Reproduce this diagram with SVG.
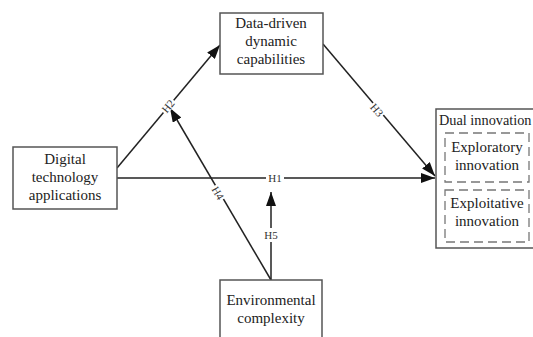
<svg xmlns="http://www.w3.org/2000/svg" width="533" height="337" viewBox="0 0 533 337">
<style>
.box{fill:#fff;stroke:#555;stroke-width:1.5}
.dash{fill:none;stroke:#777;stroke-width:1.3;stroke-dasharray:9 5}
.t{font-family:"Liberation Serif",serif;font-size:15px;fill:#222;text-anchor:middle}
.lbl{font-family:"Liberation Serif",serif;font-size:11px;fill:#333;text-anchor:middle;dominant-baseline:central}
.ln{stroke:#222;stroke-width:1.5;fill:none}
.bg{fill:#fff}
</style>
<defs>
<marker id="ah" viewBox="0 0 14 10" refX="14" refY="5" markerWidth="14" markerHeight="10" markerUnits="userSpaceOnUse" orient="auto">
<path d="M0,0 L14,5 L0,10 Z" fill="#111"/>
</marker>
</defs>
<rect width="533" height="337" fill="#fff"/>
<g id="connectors">
<line class="ln" x1="117" y1="178" x2="435" y2="178" marker-end="url(#ah)"/>
<line class="ln" x1="117" y1="168" x2="220" y2="45" marker-end="url(#ah)"/>
<line class="ln" x1="323" y1="44" x2="435" y2="176" marker-end="url(#ah)"/>
<line class="ln" x1="271" y1="280" x2="170" y2="108" marker-end="url(#ah)"/>
<line class="ln" x1="271" y1="280" x2="271" y2="192" marker-end="url(#ah)"/>
<rect class="bg" x="266" y="171" width="18" height="14"/>
<text class="lbl" x="275" y="178">H1</text>
<g transform="translate(168,106) rotate(-50)"><rect class="bg" x="-8" y="-5" width="16" height="10"/><text class="lbl" x="0" y="0">H2</text></g>
<g transform="translate(377,110) rotate(49.5)"><rect class="bg" x="-8" y="-5" width="16" height="10"/><text class="lbl" x="0" y="0">H3</text></g>
<g transform="translate(218,193) rotate(59.6)"><rect class="bg" x="-8" y="-5" width="16" height="10"/><text class="lbl" x="0" y="0">H4</text></g>
<rect class="bg" x="264" y="228" width="14" height="14"/>
<text class="lbl" x="271" y="235">H5</text>
</g>
<g id="node-data">
<rect class="box" x="220" y="13" width="103" height="61"/>
<text class="t" x="271" y="28">Data-driven</text>
<text class="t" x="271" y="46">dynamic</text>
<text class="t" x="271" y="64">capabilities</text>
</g>
<g id="node-digital">
<rect class="box" x="13" y="147" width="104" height="62"/>
<text class="t" x="65" y="164">Digital</text>
<text class="t" x="65" y="182">technology</text>
<text class="t" x="65" y="200">applications</text>
</g>
<g id="node-env">
<rect class="box" x="220" y="280" width="102" height="70"/>
<text class="t" x="271" y="305">Environmental</text>
<text class="t" x="271" y="323">complexity</text>
</g>
<g id="node-dual">
<rect class="box" x="436" y="109" width="110" height="139"/>
<text class="t" x="439" y="125" style="text-anchor:start;font-size:14.3px">Dual innovation</text>
<rect class="dash" x="445" y="133" width="84" height="49"/>
<text class="t" x="487" y="152">Exploratory</text>
<text class="t" x="487" y="170">innovation</text>
<rect class="dash" x="445" y="190" width="84" height="52"/>
<text class="t" x="487" y="208">Exploitative</text>
<text class="t" x="487" y="226">innovation</text>
</g>
</svg>
